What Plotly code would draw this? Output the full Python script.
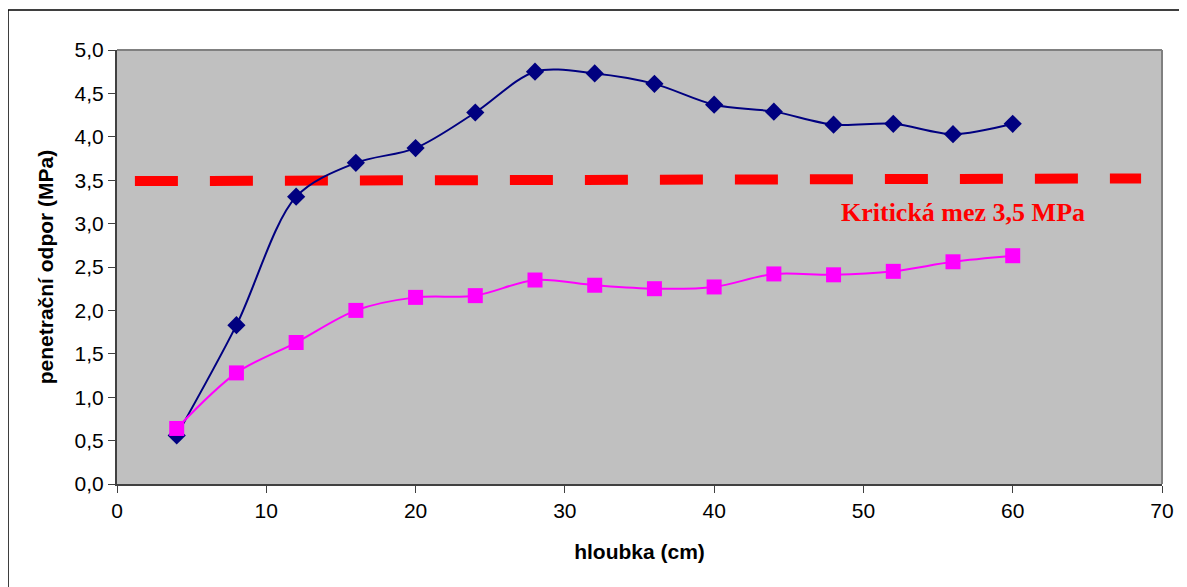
import plotly.graph_objects as go

depth = [4, 8, 12, 16, 20, 24, 28, 32, 36, 40, 44, 48, 52, 56, 60]
series_a = [0.56, 1.83, 3.31, 3.70, 3.87, 4.28, 4.75, 4.73, 4.61, 4.37, 4.29, 4.14, 4.15, 4.03, 4.15]
series_b = [0.64, 1.28, 1.63, 2.00, 2.15, 2.17, 2.35, 2.29, 2.25, 2.27, 2.42, 2.41, 2.45, 2.56, 2.63]
crit_x = [1.2, 68.6]
crit_y = [3.49, 3.52]
crit_label = "Kritická mez 3,5 MPa"
x_title = "hloubka (cm)"
y_title = "penetrační odpor (MPa)"

fig = go.Figure()
fig.add_trace(go.Scatter(x=crit_x, y=crit_y, mode="lines",
                         line=dict(color="#FF0000", width=10, dash="43px,32px"),
                         showlegend=False, hoverinfo="skip"))
fig.add_trace(go.Scatter(x=depth, y=series_a, mode="lines+markers",
                         line=dict(color="#000080", width=2, shape="spline", smoothing=0.9),
                         marker=dict(symbol="diamond", size=14, color="#000080"),
                         showlegend=False))
fig.add_trace(go.Scatter(x=depth, y=series_b, mode="lines+markers",
                         line=dict(color="#FF00FF", width=2, shape="spline", smoothing=0.9),
                         marker=dict(symbol="square", size=15, color="#FF00FF"),
                         showlegend=False))

fig.add_annotation(x=56.7, y=3.13, xref="x", yref="y", text=crit_label, showarrow=False,
                   font=dict(family="Liberation Serif", size=26, color="#FF0000", weight="bold"))

# outer chart border
fig.add_shape(type="rect", xref="paper", yref="paper", x0=-0.1043, x1=1.2, y0=-0.5, y1=1.0922,
              line=dict(color="#000000", width=1.5), layer="below")
# top/right plot border in grey
fig.add_shape(type="line", xref="paper", yref="paper", x0=0, x1=1, y0=1, y1=1,
              line=dict(color="#808080", width=2))
fig.add_shape(type="line", xref="paper", yref="paper", x0=1, x1=1, y0=0, y1=1,
              line=dict(color="#808080", width=2))

fig.update_layout(
    width=1179, height=579,
    margin=dict(l=109, r=25, t=42, b=103),
    paper_bgcolor="white", plot_bgcolor="#C0C0C0",
    separators=",.",
    font=dict(family="Liberation Sans, Arial", size=21, color="black"),
    xaxis=dict(range=[0, 70], dtick=10, tick0=0, showgrid=False, zeroline=False,
               showline=True, linecolor="#404040", linewidth=2,
               ticks="outside", ticklen=7, tickcolor="#404040",
               title=dict(text="<b>" + x_title + "</b>", font=dict(size=21), standoff=23)),
    yaxis=dict(range=[0, 5], dtick=0.5, tick0=0, tickformat=".1f", showgrid=False, zeroline=False,
               showline=True, linecolor="#404040", linewidth=2,
               ticks="outside", ticklen=7, tickcolor="#404040",
               title=dict(text="<b>" + y_title + "</b>", font=dict(size=21), standoff=15)),
)

fig.write_html("out.html")
